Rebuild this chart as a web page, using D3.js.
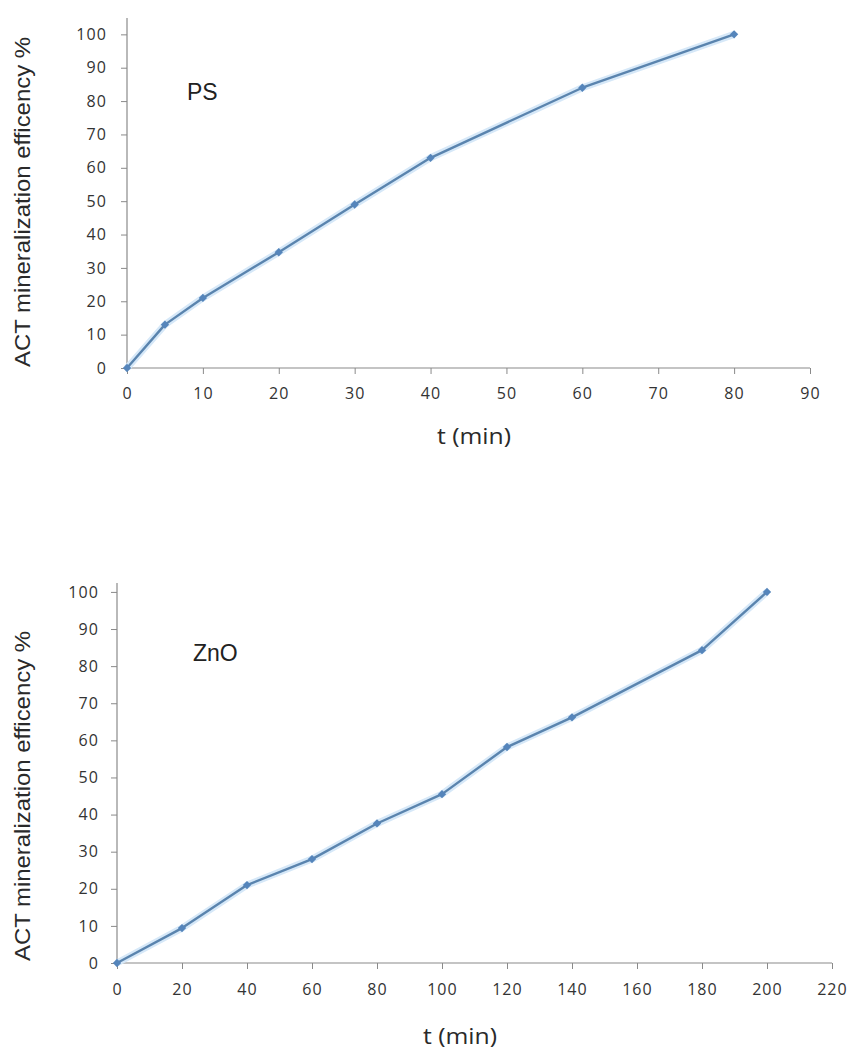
<!DOCTYPE html>
<html>
<head>
<meta charset="utf-8">
<script src="https://cdn.jsdelivr.net/npm/d3@7"></script>
<style>
  html, body { margin: 0; padding: 0; background: #fff; }
  svg { display: block; }
</style>
</head>
<body>
<svg id="chart" width="853" height="1050"></svg>
<script>
// ---- Data ----
const psTime = [0, 5, 10, 20, 30, 40, 60, 80];
const psEff  = [0, 13, 21, 34.7, 49, 63, 84, 100];
const znoTime = [0, 20, 40, 60, 80, 100, 120, 140, 180, 200];
const znoEff  = [0, 9.4, 21, 28, 37.6, 45.5, 58.2, 66.2, 84.3, 100];
const psXTicks = [0, 10, 20, 30, 40, 50, 60, 70, 80, 90];
const znoXTicks = [0, 20, 40, 60, 80, 100, 120, 140, 160, 180, 200, 220];
const yTicks = [0, 10, 20, 30, 40, 50, 60, 70, 80, 90, 100];
const yTitle = "ACT mineralization efficency %";
const xTitle = "t (min)";

const svg = d3.select("#chart");
const axisColor = "#8a8a8a";
const textColor = "#333333";
const lineColor = "#5a84ae";
const markColor = "#5585bb";

function drawPanel(cfg) {
  const g = svg.append("g");
  const x = d3.scaleLinear().domain(cfg.xDomain).range(cfg.xRange);
  const y = d3.scaleLinear().domain(cfg.yDomain).range(cfg.yRange);

  const xa = g.append("g")
    .attr("transform", `translate(0,${y(0)})`)
    .call(d3.axisBottom(x).tickValues(cfg.xTicks).tickSizeOuter(0).tickSize(6).tickPadding(cfg.xPad));
  const ya = g.append("g")
    .attr("transform", `translate(${x(0)},0)`)
    .call(d3.axisLeft(y).tickValues(yTicks).tickSizeOuter(0).tickSize(6).tickPadding(cfg.yPad));

  [xa, ya].forEach(a => {
    a.select(".domain").attr("stroke", axisColor).attr("stroke-width", 1.2);
    a.selectAll(".tick line").attr("stroke", axisColor).attr("stroke-width", 1);
    a.selectAll(".tick text")
      .attr("fill", textColor)
      .style("font-family", "'Open Sans', sans-serif")
      .style("font-size", "16px")
      .style("letter-spacing", "1.1px");
  });
  ya.select(".domain").attr("d", `M0,${y(0)}V${cfg.yRange[1]}`);
  xa.select(".domain").attr("d", `M${x(0)},0H${cfg.xRange[1]}`);

  const pts = cfg.t.map((d, i) => [d, cfg.v[i]]);
  const line = d3.line().x(d => x(d[0])).y(d => y(d[1]));

  g.append("path").datum(pts)
    .attr("d", line).attr("fill", "none")
    .attr("stroke", "#d6e8f8").attr("stroke-width", 7).attr("stroke-linejoin", "round");
  g.append("path").datum(pts)
    .attr("d", line).attr("fill", "none")
    .attr("stroke", lineColor).attr("stroke-width", 2.4).attr("stroke-linejoin", "round");

  g.selectAll("path.mark").data(pts).enter().append("path")
    .attr("class", "mark")
    .attr("d", d3.symbol().type(d3.symbolDiamond2).size(44))
    .attr("transform", d => `translate(${x(d[0])},${y(d[1])})`)
    .attr("fill", markColor);

  g.append("text")
    .attr("x", cfg.label[1]).attr("y", cfg.label[2])
    .attr("fill", "#222")
    .style("font-family", "'Liberation Sans', Arial, sans-serif")
    .style("font-size", "23px")
    .text(cfg.label[0]);

  g.append("text")
    .attr("transform", `translate(${cfg.yTitlePos[0]},${cfg.yTitlePos[1]}) rotate(-90)`)
    .attr("text-anchor", "middle")
    .attr("fill", "#2a2a2a")
    .attr("textLength", 330).attr("lengthAdjust", "spacingAndGlyphs")
    .style("font-family", "'Liberation Sans', Arial, sans-serif")
    .style("font-size", "22px")
    .text(yTitle);

  g.append("text")
    .attr("x", cfg.xTitlePos[0]).attr("y", cfg.xTitlePos[1])
    .attr("text-anchor", "middle")
    .attr("fill", "#2a2a2a")
    .attr("textLength", 74).attr("lengthAdjust", "spacingAndGlyphs")
    .style("font-family", "'Open Sans', sans-serif")
    .style("font-size", "21px")
    .text(xTitle);
}

drawPanel({
  t: psTime, v: psEff, xTicks: psXTicks,
  xDomain: [0, 90], xRange: [127, 810],
  yDomain: [0, 104.9], yRange: [368, 18],
  xPad: 14, yPad: 14,
  label: ["PS", 187, 100],
  yTitlePos: [30, 202],
  xTitlePos: [474, 444]
});
drawPanel({
  t: znoTime, v: znoEff, xTicks: znoXTicks,
  xDomain: [0, 220], xRange: [117, 832],
  yDomain: [0, 102.4], yRange: [963, 583],
  xPad: 15, yPad: 12,
  label: ["ZnO", 193, 661],
  yTitlePos: [30, 796],
  xTitlePos: [460, 1044]
});
</script>
</body>
</html>
